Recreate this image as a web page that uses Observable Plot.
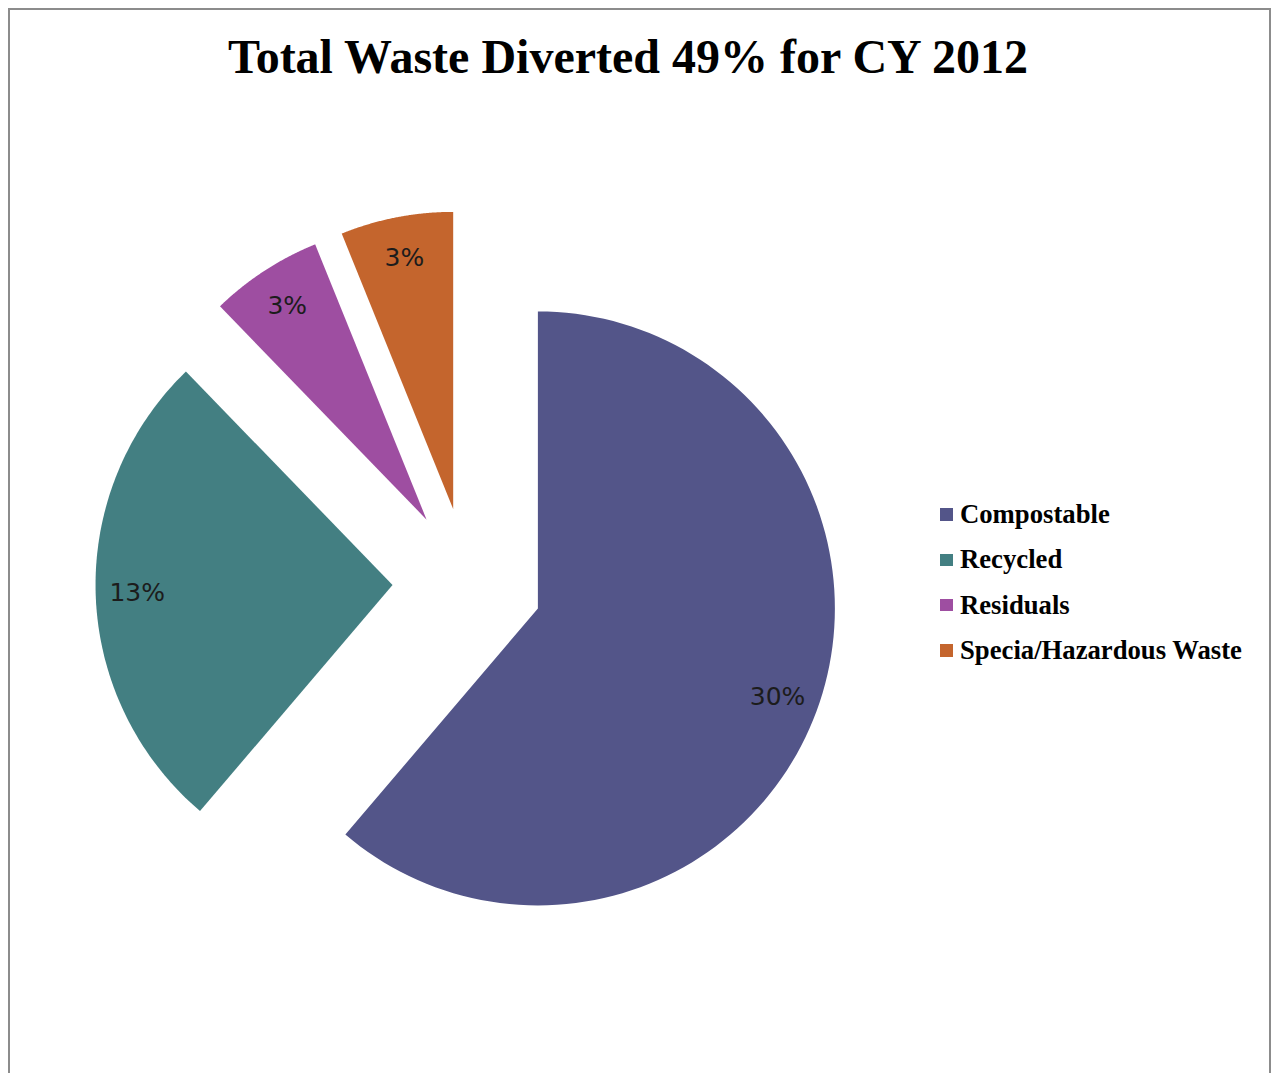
<!DOCTYPE html>
<html>
<head>
<meta charset="utf-8">
<script src="https://cdn.jsdelivr.net/npm/d3@7"></script>
<script src="https://cdn.jsdelivr.net/npm/@observablehq/plot@0.6"></script>
<style>
  html, body { margin: 0; padding: 0; background: #fff; }
  #wrap { position: relative; width: 1280px; height: 1073px; overflow: hidden; }
  #frame { position: absolute; left: 8px; top: 8px; width: 1263px; height: 1100px;
           border: 2px solid #8c8c8c; border-bottom: none; box-sizing: border-box; }
  #title { position: relative; height: 100px; }
  #title div { position: absolute; left: 0; right: 0; top: 33px; text-align: center;
               font-family: "Liberation Serif", "Times New Roman", serif;
               font-weight: bold; font-size: 48px; line-height: 48px; color: #000; margin-left: -24px; }
  #chart { position: relative; }
  #legend { position: absolute; left: 940px; top: 492px; font-family: "Liberation Serif", "Times New Roman", serif;
            font-weight: bold; font-size: 26.7px; color: #000; }
  .row { height: 45.3px; display: flex; align-items: center; white-space: nowrap; }
  .sw { width: 12.5px; height: 12.5px; margin-right: 7.5px; flex: none; }
</style>
</head>
<body>
<div id="wrap">
  <div id="frame"></div>
  <div id="title"><div>Total Waste Diverted 49% for CY 2012</div></div>
  <div id="chart"></div>
  <div id="legend"></div>
</div>
<script>
// ---- data ----
const categories = ["Compostable", "Recycled", "Residuals", "Specia/Hazardous Waste"];
const values = [30, 13, 3, 3];
const labels = ["30%", "13%", "3%", "3%"];
const colors = ["#535589", "#437F82", "#9E4EA1", "#C4652D"];

// ---- layout ----
const W = 1280, H = 973;
const R = 297;            // radius in px
const CX = 467, CY = 482; // pie centre in svg px
const EXPLODE = 75 / R;   // explosion distance in radius units
const LABEL_R = 0.86;

const arcs = d3.pie().sort(null).value(d => d)(values);
const slices = arcs.map((a, i) => {
  const mid = (a.startAngle + a.endAngle) / 2;
  const ox = EXPLODE * Math.sin(mid), oy = -EXPLODE * Math.cos(mid);
  const pts = [{x: ox, y: oy}];
  const n = 120;
  for (let k = 0; k <= n; k++) {
    const t = a.startAngle + (a.endAngle - a.startAngle) * k / n;
    pts.push({x: ox + Math.sin(t), y: oy - Math.cos(t)});
  }
  pts.push({x: ox, y: oy});
  return {
    category: categories[i], color: colors[i], label: labels[i], pts,
    lx: ox + LABEL_R * Math.sin(mid), ly: oy - LABEL_R * Math.cos(mid)
  };
});

const plot = Plot.plot({
  width: W, height: H,
  margin: 0,
  x: {domain: [-CX / R, (W - CX) / R], range: [0, W], axis: null},
  y: {domain: [-CY / R, (H - CY) / R], range: [0, H], axis: null},
  marks: [
    ...slices.map(s => Plot.line(s.pts, {x: "x", y: "y", fill: s.color, stroke: "none", curve: "linear"})),
    Plot.text(slices, {x: "lx", y: "ly", text: "label", fontSize: 25, fill: "#1c1c1c",
      fontFamily: "DejaVu Sans", fontWeight: "normal"})
  ]
});
document.getElementById("chart").appendChild(plot);

const leg = document.getElementById("legend");
categories.forEach((c, i) => {
  const row = document.createElement("div");
  row.className = "row";
  const sw = document.createElement("span");
  sw.className = "sw";
  sw.style.background = colors[i];
  const tx = document.createElement("span");
  tx.textContent = c;
  row.appendChild(sw); row.appendChild(tx);
  leg.appendChild(row);
});
</script>
</body>
</html>
